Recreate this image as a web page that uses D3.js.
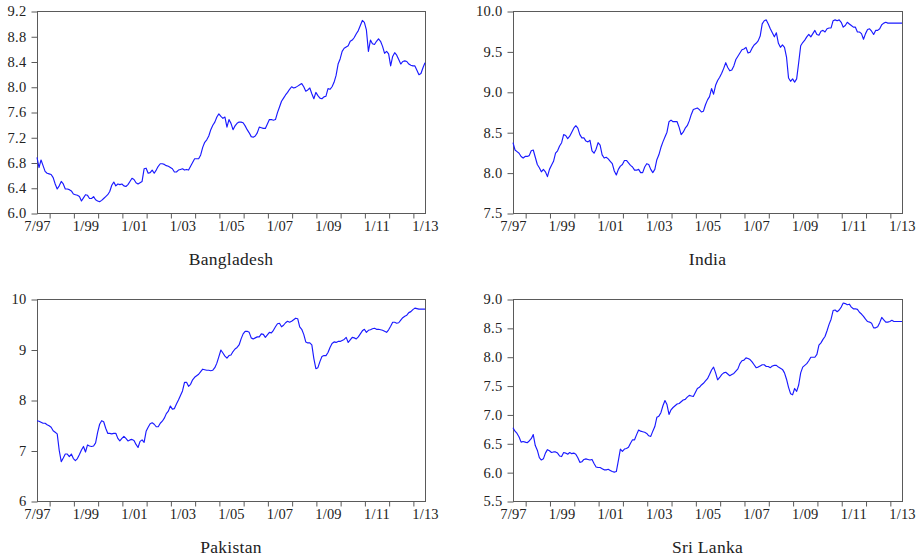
<!DOCTYPE html>
<html>
<head>
<meta charset="utf-8">
<script src="https://cdn.jsdelivr.net/npm/d3@7"></script>
<style>
  body { margin: 0; background: #fff; }
  svg text { font-family: "Liberation Serif", "Times New Roman", serif; fill: #222; }
</style>
</head>
<body>
<svg id="chart" width="919" height="560"></svg>
<script>
// Monthly series, one value per month, 193 observations each.
const xTickLabels = ["7/97", "1/99", "1/01", "1/03", "1/05", "1/07", "1/09", "1/11", "1/13"];

const bangladesh = [
  6.88, 6.72, 6.84, 6.75, 6.66, 6.63, 6.62, 6.61, 6.56, 6.46,
  6.38, 6.43, 6.50, 6.46, 6.38, 6.38, 6.37, 6.35, 6.30, 6.29,
  6.28, 6.26, 6.19, 6.24, 6.29, 6.28, 6.23, 6.23, 6.26, 6.21,
  6.19, 6.18, 6.20, 6.23, 6.26, 6.29, 6.34, 6.44, 6.49, 6.43,
  6.46, 6.45, 6.46, 6.43, 6.42, 6.45, 6.50, 6.55, 6.53, 6.48,
  6.46, 6.48, 6.50, 6.70, 6.71, 6.63, 6.64, 6.68, 6.63, 6.68,
  6.74, 6.78, 6.78, 6.77, 6.75, 6.74, 6.72, 6.70, 6.65, 6.65,
  6.68, 6.69, 6.70, 6.68, 6.69, 6.68, 6.74, 6.80, 6.86, 6.86,
  6.86, 6.92, 7.04, 7.12, 7.16, 7.22, 7.32, 7.39, 7.44, 7.52,
  7.57, 7.53, 7.50, 7.52, 7.36, 7.48, 7.42, 7.32, 7.38, 7.42,
  7.44, 7.44, 7.43, 7.38, 7.32, 7.27, 7.21, 7.20, 7.22, 7.27,
  7.36, 7.35, 7.34, 7.34, 7.41, 7.48, 7.48, 7.47, 7.48, 7.59,
  7.68, 7.77, 7.82, 7.87, 7.91, 7.96, 8.00, 7.98, 7.99, 8.01,
  8.03, 8.05, 8.00, 7.93, 7.95, 7.98, 7.89, 7.81, 7.91, 7.86,
  7.82, 7.81, 7.84, 7.85, 7.97, 7.96, 8.00, 8.07, 8.18, 8.36,
  8.44, 8.56, 8.61, 8.63, 8.65, 8.72, 8.74, 8.78, 8.84, 8.89,
  8.97, 9.05, 9.02, 8.90, 8.56, 8.74, 8.68, 8.67, 8.72, 8.76,
  8.72, 8.64, 8.53, 8.56, 8.52, 8.33, 8.48, 8.54, 8.50, 8.43,
  8.36, 8.40, 8.41, 8.40, 8.36, 8.34, 8.33, 8.33, 8.26, 8.19,
  8.21, 8.30, 8.38
];

const india = [
  8.37, 8.28, 8.26, 8.24, 8.20, 8.18, 8.20, 8.20, 8.21, 8.27,
  8.28, 8.19, 8.10, 8.06, 8.01, 8.04, 8.01, 7.95, 8.04, 8.09,
  8.14, 8.24, 8.27, 8.33, 8.37, 8.47, 8.46, 8.42, 8.45, 8.50,
  8.55, 8.58, 8.55, 8.47, 8.43, 8.43, 8.39, 8.38, 8.40, 8.27,
  8.24, 8.29, 8.37, 8.34, 8.22, 8.18, 8.19, 8.17, 8.14, 8.11,
  8.02, 7.97, 8.04, 8.08, 8.10, 8.15, 8.15, 8.12, 8.09, 8.07,
  8.03, 8.03, 8.04, 8.00, 8.00, 8.07, 8.11, 8.10, 8.04, 8.00,
  8.04, 8.16, 8.22, 8.31, 8.38, 8.44, 8.50, 8.63, 8.65, 8.63,
  8.63, 8.63, 8.56, 8.47, 8.50, 8.55, 8.58, 8.64, 8.72, 8.78,
  8.79, 8.80, 8.78, 8.75, 8.76, 8.84, 8.90, 8.94, 9.04, 8.97,
  9.08, 9.14, 9.18, 9.23, 9.29, 9.36, 9.30, 9.26, 9.27, 9.32,
  9.40, 9.44, 9.48, 9.52, 9.53, 9.55, 9.48, 9.49, 9.54, 9.58,
  9.60, 9.63, 9.69, 9.84, 9.88, 9.89, 9.84, 9.78, 9.73, 9.68,
  9.73, 9.60, 9.55, 9.58, 9.55, 9.43, 9.17, 9.13, 9.16, 9.12,
  9.16, 9.36, 9.57, 9.61, 9.64, 9.68, 9.71, 9.68, 9.72, 9.76,
  9.71, 9.70, 9.75, 9.76, 9.74, 9.78, 9.79, 9.79, 9.88, 9.89,
  9.88, 9.89, 9.86, 9.80, 9.82, 9.86, 9.84, 9.82, 9.80, 9.80,
  9.74, 9.74, 9.72, 9.65, 9.72, 9.77, 9.78, 9.75, 9.71, 9.76,
  9.76, 9.78, 9.83, 9.85, 9.86, 9.85, 9.85, 9.85, 9.85, 9.85,
  9.85, 9.85, 9.85
];

const pakistan = [
  7.59, 7.58, 7.56, 7.54, 7.54, 7.51, 7.49, 7.46, 7.39, 7.36,
  7.33, 7.00, 6.78, 6.85, 6.93, 6.93, 6.88, 6.93, 6.84, 6.80,
  6.84, 6.92, 7.01, 7.08, 6.97, 7.11, 7.09, 7.08, 7.09, 7.15,
  7.36, 7.52, 7.59, 7.57, 7.44, 7.34, 7.34, 7.33, 7.34, 7.34,
  7.24, 7.19, 7.24, 7.28, 7.24, 7.19, 7.21, 7.22, 7.20, 7.12,
  7.06, 7.18, 7.21, 7.16, 7.38, 7.46, 7.53, 7.55, 7.52, 7.47,
  7.47, 7.54, 7.58, 7.64, 7.73, 7.78, 7.88, 7.82, 7.83, 7.92,
  8.00, 8.09, 8.18, 8.35, 8.35, 8.27, 8.31, 8.40, 8.45, 8.48,
  8.51, 8.56, 8.61, 8.60, 8.59, 8.59, 8.58, 8.59, 8.64, 8.73,
  8.86, 8.99, 8.93, 8.87, 8.83, 8.88, 8.89, 8.96, 9.01, 9.04,
  9.09, 9.21, 9.31, 9.36, 9.36, 9.34, 9.23, 9.21, 9.23, 9.25,
  9.25, 9.31, 9.30, 9.24, 9.29, 9.34, 9.33, 9.38, 9.45, 9.51,
  9.52, 9.45, 9.48, 9.53, 9.56, 9.54, 9.56, 9.59, 9.62, 9.61,
  9.45, 9.40, 9.30, 9.15, 9.13, 9.13, 9.09, 8.82, 8.62, 8.64,
  8.76, 8.86, 8.88, 8.88, 8.94, 9.04, 9.12, 9.15, 9.14, 9.16,
  9.16, 9.18, 9.20, 9.24, 9.14, 9.19, 9.24, 9.23, 9.21, 9.25,
  9.31, 9.37, 9.40, 9.34, 9.38, 9.39, 9.41, 9.42, 9.40, 9.40,
  9.39, 9.38, 9.36, 9.34, 9.39, 9.46, 9.54, 9.54, 9.52, 9.53,
  9.58, 9.63, 9.66, 9.68, 9.73, 9.75, 9.79, 9.82, 9.81, 9.80,
  9.80, 9.80, 9.80
];

const sriLanka = [
  6.77, 6.71, 6.67, 6.61, 6.52, 6.53, 6.52, 6.51, 6.54, 6.58,
  6.65, 6.46, 6.38, 6.25, 6.21, 6.23, 6.33, 6.39, 6.37, 6.34,
  6.35, 6.35, 6.33, 6.28, 6.27, 6.34, 6.33, 6.31, 6.34, 6.32,
  6.33, 6.31, 6.25, 6.17, 6.18, 6.22, 6.23, 6.22, 6.21, 6.22,
  6.15, 6.09, 6.08, 6.08, 6.06, 6.04, 6.04, 6.05, 6.03, 6.01,
  6.00, 6.01, 6.20, 6.40, 6.36, 6.40, 6.41, 6.43, 6.50, 6.56,
  6.56, 6.65, 6.73, 6.71, 6.70, 6.69, 6.67, 6.63, 6.62, 6.71,
  6.79, 6.95, 6.97, 7.03, 7.15, 7.24, 7.17, 7.00, 7.08, 7.12,
  7.15, 7.18, 7.19, 7.22, 7.25, 7.26, 7.30, 7.33, 7.32, 7.31,
  7.38, 7.45, 7.47, 7.51, 7.54, 7.58, 7.62, 7.69, 7.77, 7.82,
  7.72, 7.60, 7.64, 7.69, 7.72, 7.73, 7.70, 7.67, 7.69, 7.71,
  7.75, 7.79, 7.88, 7.93, 7.94, 7.98, 7.97, 7.95, 7.91, 7.86,
  7.81, 7.82, 7.84, 7.86, 7.86, 7.83, 7.83, 7.81, 7.84, 7.85,
  7.85, 7.82, 7.80, 7.78, 7.72, 7.61, 7.47, 7.36, 7.34, 7.45,
  7.40, 7.51, 7.72, 7.82, 7.85, 7.88, 7.93, 7.99, 7.99, 7.99,
  8.04, 8.20, 8.24, 8.30, 8.35, 8.45, 8.56, 8.65, 8.80, 8.81,
  8.78, 8.81, 8.86, 8.93, 8.92, 8.90, 8.91, 8.86, 8.83, 8.83,
  8.82, 8.77, 8.74, 8.70, 8.65, 8.61, 8.60, 8.58, 8.50, 8.50,
  8.52, 8.59, 8.68, 8.64, 8.60, 8.60, 8.61, 8.63, 8.61, 8.61,
  8.61, 8.61, 8.61
];

const countryNames = ["Bangladesh", "India", "Pakistan", "Sri Lanka"];
const countrySeries = [bangladesh, india, pakistan, sriLanka];
const yDomains = [[6.0, 9.2], [7.5, 10.0], [6, 10], [5.5, 9.0]];
const ySteps = [0.4, 0.5, 1, 0.5];
const yFormats = [".1f", ".1f", "d", ".1f"];

// Panel frames (left, top, right, bottom) in a 2 x 2 grid.
const frames = [
  [37, 11, 425, 213],
  [513, 11, 902, 213],
  [37, 299, 425, 501],
  [513, 299, 902, 501]
];

const svg = d3.select("#chart");
const frameColor = "#5a5a5a";

countryNames.forEach((name, p) => {
  const [l, t, r, b] = frames[p];
  const values = countrySeries[p];
  const n = values.length;

  const x = d3.scaleLinear().domain([0, n - 1]).range([l, r]);
  const y = d3.scaleLinear().domain(yDomains[p]).range([b, t]);

  const g = svg.append("g");

  // Frame
  g.append("rect")
    .attr("x", l + 0.5).attr("y", t + 0.5)
    .attr("width", r - l).attr("height", b - t)
    .attr("fill", "none").attr("stroke", frameColor).attr("stroke-width", 1);

  // Y axis ticks and labels
  const [y0, y1] = yDomains[p];
  const steps = Math.round((y1 - y0) / ySteps[p]);
  const yTicks = d3.range(steps + 1).map(k => +(y0 + k * ySteps[p]).toFixed(2));
  const yAxis = d3.axisLeft(y)
    .tickValues(yTicks)
    .tickFormat(d3.format(yFormats[p]))
    .tickSizeInner(6).tickSizeOuter(0).tickPadding(5);
  const ya = g.append("g").attr("transform", `translate(${l + 0.5},0.5)`).call(yAxis);
  ya.select(".domain").remove();
  ya.selectAll("line").attr("stroke", frameColor);
  ya.selectAll("text")
    .attr("font-size", 14.5)
    .attr("letter-spacing", 0.3)
    .attr("dy", "0.3em")
    .attr("fill", "#222");

  // X axis: yearly tick marks mid-year, labels every two years
  const minorTicks = d3.range(6, n - 1, 12);
  const xAxis = d3.axisBottom(x)
    .tickValues(minorTicks)
    .tickFormat("")
    .tickSizeInner(5).tickSizeOuter(0);
  const xa = g.append("g").attr("transform", `translate(0.5,${b + 0.5})`).call(xAxis);
  xa.select(".domain").remove();
  xa.selectAll("line").attr("stroke", frameColor);

  const labelPos = xTickLabels.map((lab, k) => k * 24);
  g.selectAll("text.xlab")
    .data(xTickLabels)
    .join("text")
    .attr("class", "xlab")
    .attr("x", (d, k) => x(labelPos[k]) + 0.5)
    .attr("y", b + 18)
    .attr("text-anchor", "middle")
    .attr("font-size", 14.5)
    .attr("letter-spacing", 0.2)
    .text(d => d);

  // Series line
  const line = d3.line()
    .x((d, i) => x(i))
    .y(d => y(d));
  g.append("path")
    .datum(values)
    .attr("d", line)
    .attr("fill", "none")
    .attr("stroke", "#1a1aff")
    .attr("stroke-width", 1.15)
    .attr("stroke-linejoin", "round");

  // Panel title
  g.append("text")
    .attr("x", (l + r) / 2)
    .attr("y", b + 52)
    .attr("text-anchor", "middle")
    .attr("font-size", 17.5)
    .attr("letter-spacing", 0.3)
    .text(name);
});
</script>
</body>
</html>
